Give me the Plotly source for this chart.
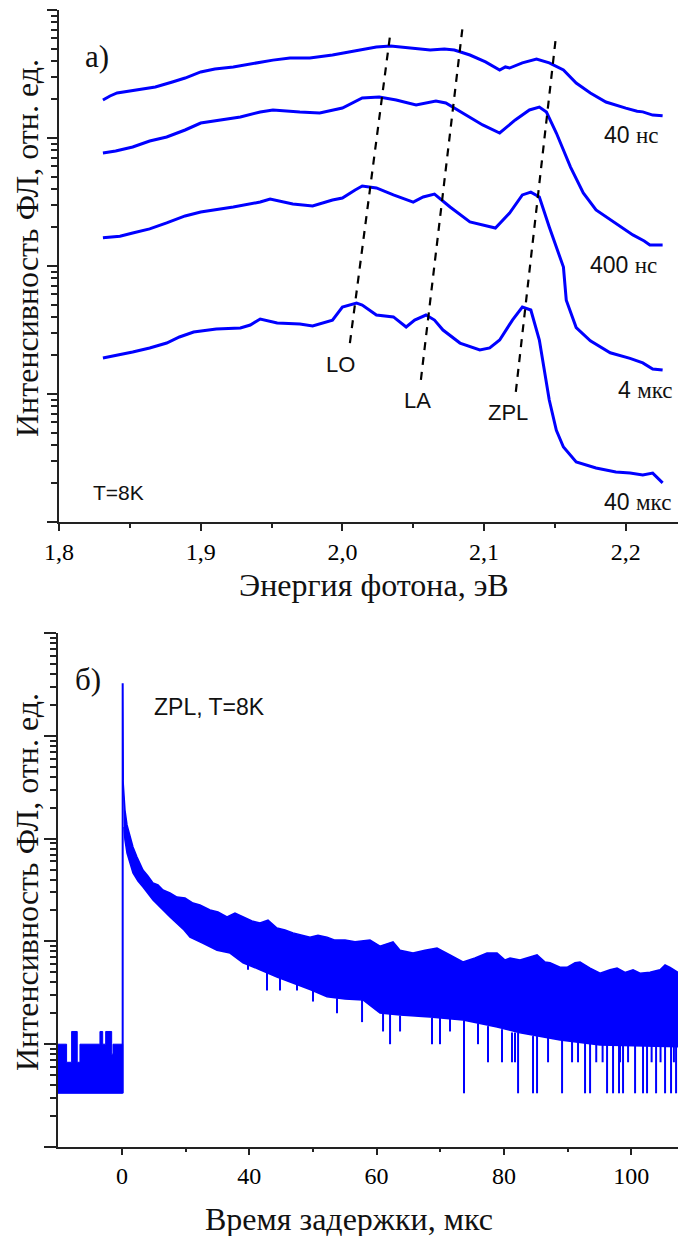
import plotly.graph_objects as go

# ---------------- Panel a: PL spectra (photon energy, eV) ----------------
e_40ns = [1.831, 1.836, 1.841, 1.850, 1.857, 1.868, 1.880, 1.889, 1.900, 1.910, 1.923, 1.938, 1.951,
          1.963, 1.977, 1.993, 2.005, 2.016, 2.024, 2.034, 2.048, 2.062, 2.072, 2.079, 2.090, 2.101,
          2.111, 2.115, 2.118, 2.127, 2.137, 2.146, 2.156, 2.165, 2.175, 2.186, 2.200, 2.208, 2.212,
          2.219, 2.226]
i_40ns = [1980, 2130, 2250, 2330, 2370, 2500, 2740, 2940, 3280, 3460, 3590, 3860, 4060,
          4220, 4220, 4450, 4700, 4960, 5140, 5240, 5050, 4870, 4960, 4870, 4450, 3930,
          3400, 3590, 3520, 3860, 4140, 3860, 3400, 2690, 2250, 1910, 1710, 1620, 1600,
          1510, 1490]

e_400ns = [1.831, 1.840, 1.852, 1.864, 1.876, 1.889, 1.900, 1.914, 1.928, 1.942, 1.951, 1.970, 1.984,
           2.000, 2.014, 2.026, 2.038, 2.052, 2.066, 2.073, 2.085, 2.099, 2.111, 2.122, 2.132, 2.139,
           2.144, 2.151, 2.161, 2.170, 2.179, 2.193, 2.205, 2.213, 2.217, 2.226]
i_400ns = [764, 791, 851, 948, 1018, 1155, 1309, 1383, 1459, 1596, 1656, 1596, 1567,
           1714, 2055, 2091, 1982, 1811, 1945, 1876, 1567, 1265, 1094, 1383, 1656, 1746,
           1596, 1094, 593, 372, 274, 217, 175, 157, 146, 146]

e_4us = [1.831, 1.843, 1.852, 1.864, 1.876, 1.889, 1.900, 1.923, 1.942, 1.949, 1.965, 1.979, 1.993,
         2.000, 2.009, 2.014, 2.024, 2.036, 2.050, 2.057, 2.065, 2.076, 2.090, 2.108, 2.118, 2.127,
         2.133, 2.139, 2.146, 2.156, 2.158, 2.165, 2.175, 2.189, 2.203, 2.212, 2.219, 2.226]
i_4us = [166, 171, 181, 195, 217, 246, 264, 289, 316, 334, 305, 294, 328,
         340, 393, 422, 407, 359, 316, 346, 365, 289, 221, 198, 259, 359,
         378, 346, 202, 98, 54, 33, 26, 21, 19, 17.5, 15.7, 15.4]

e_40us = [1.831, 1.843, 1.852, 1.864, 1.876, 1.885, 1.895, 1.911, 1.928, 1.935, 1.942, 1.954, 1.970,
          1.979, 1.993, 2.000, 2.010, 2.014, 2.024, 2.036, 2.045, 2.051, 2.059, 2.065, 2.071, 2.083,
          2.097, 2.104, 2.111, 2.120, 2.127, 2.133, 2.139, 2.146, 2.151, 2.156, 2.165, 2.179, 2.193,
          2.203, 2.212, 2.219, 2.226]
i_40us = [19.1, 20.2, 21.3, 22.9, 25.0, 27.9, 30.5, 32.2, 32.8, 34.6, 38.5, 35.9, 35.2,
          34.0, 37.8, 47.8, 51.4, 49.6, 41.4, 40.0, 33.4, 37.8, 41.4, 37.8, 31.6, 25.0,
          22.1, 22.9, 26.4, 37.8, 47.8, 45.3, 26.4, 8.98, 5.2, 3.85, 2.94, 2.64, 2.46,
          2.41, 2.33, 2.41, 2.02]

# guide lines (peak shifts): energy at lower / upper end, intensity at lower / upper end
guide_names = ["LO", "LA", "ZPL"]
guide_e0 = [2.0053, 2.0554, 2.1224]
guide_e1 = [2.0335, 2.0850, 2.1506]
guide_i0 = [25.0, 12.9, 10.4]
guide_i1 = [6150, 7640, 6040]

delay_labels = ["40", "400", "4", "40"]
delay_units = ["нс", "нс", "мкс", "мкс"]

# ---------------- Panel б: ZPL decay (delay time) ----------------
pre_t = [-10.05, -8.70, -7.91, -7.03, -6.60, -3.46, -3.03, -2.56, -1.62, -1.41, 0.11]
pre_top = [10, 6.67, 13.3, 6.67, 10, 13.3, 10, 13.3, 8.0, 10, 10]
pre_floor = 3.33

peak_t = [0.11, 0.11, 0.16]
peak_i = [3.33, 32400, 3715]

band_t_up = [0.16, 0.31, 0.47, 0.79, 1.26, 1.73, 2.36, 3.30, 4.08, 4.87, 5.66, 6.44, 7.54, 8.64, 9.90,
             11.15, 12.25, 13.83, 15.08, 16.50, 17.75, 19.01, 20.42, 21.68, 22.94, 24.35, 25.61,
             26.87, 28.28, 29.54, 30.79, 32.21, 33.46, 35.04, 36.61, 38.96, 40.53, 42.58, 43.68,
             45.72, 47.60, 49.49, 51.53, 53.57, 55.46, 57.34, 58.92, 60.17, 60.96, 62.53, 65.20,
             66.46, 67.24, 68.81, 69.91, 71.17, 71.96, 73.53, 75.10, 76.67, 77.77, 79.03, 80.28,
             81.38, 82.95, 84.52, 85.31, 86.10, 87.35, 88.61]
band_up = [3715, 2655, 1897, 1357, 1037, 828, 662, 495, 433, 370, 354, 316, 296, 270, 264,
           236, 226, 202, 193, 173, 189, 173, 158, 151, 161, 135, 129,
           121, 115, 110, 115, 110, 103, 103, 99, 103, 90, 99, 82,
           77, 82, 86, 74, 63, 69, 77, 77, 66, 69, 66, 74,
           63, 62, 56, 56, 62, 63, 55, 49, 53, 55, 50, 53,
           49, 50, 53, 59, 56, 50, 47]

band_t_low = [0.31, 0.47, 0.79, 1.26, 1.73, 2.51, 3.30, 4.87, 6.44, 7.54, 8.64, 9.74, 10.68, 12.73,
              14.93, 16.97, 19.01, 21.68, 24.35, 26.87, 29.54, 32.21, 35.04, 37.86, 40.53, 43.68,
              48.39, 53.57, 58.92, 62.53, 68.81, 75.10, 88.61]
band_low = [1297, 969, 724, 566, 463, 387, 338, 253, 202, 173, 151, 129, 110, 96,
            82, 77, 62, 53, 45, 39, 34, 29, 27.5, 26.9, 20.1, 19.2,
            18.4, 17.2, 14.7, 12.9, 11.0, 9.8, 9.4]

dip_t = [19.80, 22.78, 24.82, 27.49, 30.01, 33.78, 37.71, 41.01, 42.11, 43.68, 48.70, 49.96, 51.53,
         53.73, 55.93, 57.50, 59.70, 61.27, 61.74, 62.22, 64.57, 65.20, 66.93, 69.13, 70.70, 71.64,
         72.74, 73.53, 74.50, 75.50, 76.20, 77.14, 78.08, 78.24, 78.71, 79.50, 80.60, 81.85, 82.48,
         83.20, 83.90, 84.60, 85.31, 86.25, 86.70, 87.04, 88.14, 88.50]
dip_low = [53, 33.3, 33.3, 33.3, 26.0, 20.0, 16.4, 13.3, 10.0, 13.3, 10.0, 10.0, 13.3,
           3.33, 10.0, 6.67, 6.67, 6.67, 6.67, 3.33, 3.33, 3.33, 6.67, 3.33, 6.67, 6.67,
           3.33, 3.33, 6.67, 6.67, 3.33, 3.33, 3.33, 6.67, 3.33, 6.67, 3.33, 3.33, 3.33,
           6.67, 3.33, 6.67, 3.33, 3.33, 6.67, 3.33, 3.33, 6.67]
dip_top = [62, 50, 45, 38, 34, 28, 27, 20, 20, 19, 18, 18, 18,
           17, 16, 15, 14, 13, 13, 13, 12, 12, 12, 11, 11, 11,
           11, 11, 11, 10, 10, 10, 10, 10, 10, 10, 10, 10, 10,
           10, 10, 10, 10, 10, 10, 10, 10, 10]

time_tickvals = [0, 20, 40, 60, 80]
time_ticktext = ["0", "40", "60", "80", "100"]
time_minor = [10, 30, 50, 70]

BLUE = "#0000ff"
AX = "#222222"
SERIF = "Liberation Serif"
SANS = "Liberation Sans"

W, H = 686, 1236
OFF = 8  # page body margin in the browser


def px_x(p):
    return (p - OFF) / W


def px_y(p):
    return 1 - (p - OFF) / H


fig = go.Figure()

# spectra
for e, i in [(e_40ns, i_40ns), (e_400ns, i_400ns), (e_4us, i_4us), (e_40us, i_40us)]:
    fig.add_trace(go.Scatter(x=e, y=i, mode="lines", line=dict(color=BLUE, width=3),
                             xaxis="x", yaxis="y", showlegend=False, hoverinfo="skip"))

# dashed guides
for k in range(len(guide_names)):
    fig.add_trace(go.Scatter(x=[guide_e0[k], guide_e1[k]], y=[guide_i0[k], guide_i1[k]], mode="lines",
                             line=dict(color="black", width=2.2, dash="8px,7px"),
                             xaxis="x", yaxis="y", showlegend=False, hoverinfo="skip"))

# decay: pre-zero background
fig.add_trace(go.Scatter(x=pre_t + [pre_t[-1], pre_t[0]], y=pre_top + [pre_floor, pre_floor],
                         mode="lines", line=dict(color=BLUE, width=1, shape="hv"), fill="toself",
                         fillcolor=BLUE, xaxis="x2", yaxis="y2", showlegend=False, hoverinfo="skip"))
# excitation peak
fig.add_trace(go.Scatter(x=peak_t, y=peak_i, mode="lines", line=dict(color=BLUE, width=2),
                         xaxis="x2", yaxis="y2", showlegend=False, hoverinfo="skip"))
# decay band
fig.add_trace(go.Scatter(x=band_t_up + band_t_low[::-1], y=band_up + band_low[::-1],
                         mode="lines", line=dict(color=BLUE, width=1.5), fill="toself",
                         fillcolor=BLUE, xaxis="x2", yaxis="y2", showlegend=False, hoverinfo="skip"))
# downward noise spikes
sx, sy = [], []
for t, lo, hi in zip(dip_t, dip_low, dip_top):
    sx += [t, t, None]
    sy += [lo, hi, None]
fig.add_trace(go.Scatter(x=sx, y=sy, mode="lines", line=dict(color=BLUE, width=2),
                         xaxis="x2", yaxis="y2", showlegend=False, hoverinfo="skip"))

tickfont = dict(family=SERIF, size=24, color="#000")
common_ax = dict(showgrid=False, zeroline=False, showline=True, linewidth=2, linecolor=AX,
                 tickwidth=2, tickcolor=AX, automargin=False)

C = dict(xanchor="center", yanchor="middle", showarrow=False)
annotations = []
# panel a texts
annotations.append(dict(text="а)", x=1.8268, y=3.64, xref="x", yref="y",
                        font=dict(family=SERIF, size=31, color="#111"), **C))
annotations.append(dict(text="T=8K", x=1.842, y=0.234, xref="x", yref="y",
                        font=dict(family=SANS, size=21, color="#111"), **C))
for name, xx, yy in zip(guide_names, [1.999, 2.053, 2.1168], [1.234, 0.953, 0.859]):
    annotations.append(dict(text=name, x=xx, y=yy, xref="x", yref="y",
                            font=dict(family=SANS, size=22, color="#111"), **C))
for lab, unit, xx, yy in zip(delay_labels, delay_units, [2.2042, 2.1986, 2.2141, 2.2085],
                             [3.023, 2.008, 1.031, 0.156]):
    annotations.append(dict(text=f"{lab} <span style='font-family:{SERIF}'>{unit}</span>",
                            x=xx, y=yy, xref="x", yref="y",
                            font=dict(family=SANS, size=23, color="#111"), **C))
# panel б texts
annotations.append(dict(text="б)", x=-5.4, y=4.55, xref="x2", yref="y2",
                        font=dict(family=SERIF, size=31, color="#111"), **C))
annotations.append(dict(text="ZPL, T=8K", x=13.7, y=4.28, xref="x2", yref="y2",
                        font=dict(family=SANS, size=23, color="#111"), **C))
# axis titles
ytitle = "Интенсивность ФЛ, отн. ед."
annotations.append(dict(text=ytitle, x=px_x(27), y=px_y(248), xref="paper", yref="paper",
                        textangle=-90, font=dict(family=SERIF, size=32, color="#111"), **C))
annotations.append(dict(text=ytitle, x=px_x(27), y=px_y(882), xref="paper", yref="paper",
                        textangle=-90, font=dict(family=SERIF, size=32, color="#111"), **C))
annotations.append(dict(text="Энергия фотона, эВ", x=px_x(374), y=px_y(585), xref="paper",
                        yref="paper", font=dict(family=SERIF, size=32, color="#111"), **C))
annotations.append(dict(text="Время задержки, мкс", x=px_x(349), y=px_y(1219), xref="paper",
                        yref="paper", font=dict(family=SERIF, size=32, color="#111"), **C))

E_RANGE = [1.8, 2.2425]
T_RANGE = [-10.05, 88.6]
top_x_dom = [px_x(59), px_x(686)]
top_y_dom = [px_y(522), px_y(10)]
bot_x_dom = [px_x(58), px_x(686)]
bot_y_dom = [px_y(1147), px_y(633)]

fig.update_layout(
    width=W, height=H, margin=dict(l=0, r=0, t=0, b=0, autoexpand=False),
    paper_bgcolor="white", plot_bgcolor="white", separators=", ",
    showlegend=False, annotations=annotations,
    xaxis=dict(domain=top_x_dom, anchor="y", range=E_RANGE, tick0=1.8, dtick=0.1, tickformat=".1f",
               ticks="outside", ticklen=7, tickfont=tickfont,
               minor=dict(ticks="outside", ticklen=4, tickwidth=2, tickcolor=AX, tick0=1.8, dtick=0.05),
               **common_ax),
    xaxis3=dict(overlaying="x", anchor="y", side="top", range=E_RANGE, tick0=1.8, dtick=0.1,
                ticks="inside", ticklen=6, showticklabels=False,
                minor=dict(ticks="inside", ticklen=3, tickwidth=2, tickcolor=AX, tick0=1.8, dtick=0.05),
                **common_ax),
    yaxis=dict(domain=top_y_dom, anchor="x", type="log", range=[0, 4], dtick=1,
               ticks="outside", ticklen=10, showticklabels=False,
               minor=dict(ticks="outside", ticklen=6, tickwidth=2, tickcolor=AX, dtick="D1"),
               **common_ax),
    xaxis2=dict(domain=bot_x_dom, anchor="y2", range=T_RANGE, tickvals=time_tickvals,
                ticktext=time_ticktext, ticks="outside", ticklen=6, tickfont=tickfont,
                minor=dict(ticks="outside", ticklen=3, tickwidth=2, tickcolor=AX, tickvals=time_minor),
                **common_ax),
    xaxis4=dict(overlaying="x2", anchor="y2", side="top", range=T_RANGE, tickvals=time_tickvals,
                ticks="inside", ticklen=10, showticklabels=False,
                minor=dict(ticks="inside", ticklen=5, tickwidth=2, tickcolor=AX, tickvals=time_minor),
                **common_ax),
    yaxis2=dict(domain=bot_y_dom, anchor="x2", type="log", range=[0, 5], dtick=1,
                ticks="outside", ticklen=12, showticklabels=False,
                minor=dict(ticks="outside", ticklen=6, tickwidth=2, tickcolor=AX, dtick="D1"),
                **common_ax),
)

fig.write_html("out.html")
